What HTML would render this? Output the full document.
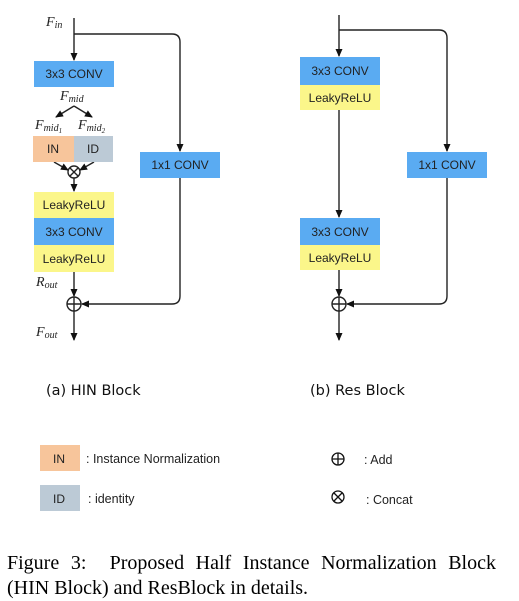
<!DOCTYPE html>
<html><head><style>
body{margin:0;background:#fff;width:519px;height:601px;overflow:hidden;position:relative}
svg{position:absolute;left:0;top:0}
.cap{position:absolute;left:7px;width:489px;font-family:"Liberation Serif",serif;font-size:20px;line-height:25px;white-space:nowrap}
.l1{top:551px;text-align:justify;text-align-last:justify;white-space:normal}
.l2{top:576px}
</style></head><body>
<svg width="519" height="601" viewBox="0 0 519 601">
<defs><marker id="a" markerWidth="8" markerHeight="8" refX="7" refY="4" orient="auto" markerUnits="userSpaceOnUse"><path d="M0,0.5 L8,4 L0,7.5 z" fill="#111"/></marker></defs>
<g font-family="Liberation Sans,sans-serif" font-size="12" text-anchor="middle" fill="#222">
<!-- HIN block -->
<g stroke="#222" stroke-width="1.4" fill="none">
<line x1="74" y1="18" x2="74" y2="60" marker-end="url(#a)"/>
<path d="M74,34 H172 Q180,34 180,42 V151" marker-end="url(#a)"/>
<line x1="74" y1="106" x2="56" y2="117" marker-end="url(#a)"/>
<line x1="74" y1="106" x2="92" y2="117" marker-end="url(#a)"/>
<line x1="54" y1="162" x2="68" y2="170" marker-end="url(#a)"/>
<line x1="94" y1="162" x2="80" y2="170" marker-end="url(#a)"/>
<line x1="74" y1="178" x2="74" y2="191" marker-end="url(#a)"/>
<line x1="74" y1="272" x2="74" y2="296" marker-end="url(#a)"/>
<path d="M180,178 V296 Q180,304 172,304 H82" marker-end="url(#a)"/>
<line x1="74" y1="311" x2="74" y2="340" marker-end="url(#a)"/>
<circle cx="74" cy="172" r="6"/><path d="M70,168 L78,176 M78,168 L70,176"/>
<circle cx="74" cy="304" r="7"/><path d="M67,304 H81 M74,297 V311"/>
</g>
<rect x="34" y="61" width="80" height="26" fill="#5aabf2"/><text x="74" y="78">3x3 CONV</text>
<rect x="33" y="136" width="41" height="26" fill="#f7c59b"/><text x="53" y="153">IN</text>
<rect x="74" y="136" width="39" height="26" fill="#bccad6"/><text x="93" y="153">ID</text>
<rect x="34" y="192" width="80" height="26" fill="#fbf68a"/><text x="74" y="209">LeakyReLU</text>
<rect x="34" y="218" width="80" height="27" fill="#5aabf2"/><text x="74" y="236">3x3 CONV</text>
<rect x="34" y="245" width="80" height="27" fill="#fbf68a"/><text x="74" y="263">LeakyReLU</text>
<rect x="140" y="152" width="80" height="26" fill="#5aabf2"/><text x="180" y="169">1x1 CONV</text>
<g font-family="Liberation Serif,serif" font-style="italic" font-size="14" text-anchor="start">
<text x="46" y="26">F<tspan font-size="10" dy="2">in</tspan></text>
<text x="60" y="100">F<tspan font-size="10" dy="2">mid</tspan></text>
<text x="35" y="129">F<tspan font-size="10" dy="2">mid</tspan><tspan font-size="7" dy="2">1</tspan></text>
<text x="78" y="129">F<tspan font-size="10" dy="2">mid</tspan><tspan font-size="7" dy="2">2</tspan></text>
<text x="36" y="286">R<tspan font-size="10" dy="2">out</tspan></text>
<text x="36" y="336">F<tspan font-size="10" dy="2">out</tspan></text>
</g>
<!-- Res block -->
<g stroke="#222" stroke-width="1.4" fill="none">
<line x1="339" y1="15" x2="339" y2="56" marker-end="url(#a)"/>
<path d="M339,30 H439 Q447,30 447,38 V151" marker-end="url(#a)"/>
<line x1="339" y1="110" x2="339" y2="217" marker-end="url(#a)"/>
<line x1="339" y1="270" x2="339" y2="296" marker-end="url(#a)"/>
<path d="M447,178 V296 Q447,304 439,304 H347" marker-end="url(#a)"/>
<line x1="339" y1="311" x2="339" y2="340" marker-end="url(#a)"/>
<circle cx="339" cy="304" r="7"/><path d="M332,304 H346 M339,297 V311"/>
</g>
<rect x="300" y="57" width="80" height="28" fill="#5aabf2"/><text x="340" y="75">3x3 CONV</text>
<rect x="300" y="85" width="80" height="25" fill="#fbf68a"/><text x="340" y="102">LeakyReLU</text>
<rect x="300" y="218" width="80" height="27" fill="#5aabf2"/><text x="340" y="236">3x3 CONV</text>
<rect x="300" y="245" width="80" height="25" fill="#fbf68a"/><text x="340" y="262">LeakyReLU</text>
<rect x="407" y="152" width="80" height="26" fill="#5aabf2"/><text x="447" y="169">1x1 CONV</text>
<!-- labels -->
<g font-family="DejaVu Sans,sans-serif" font-size="14.5" text-anchor="start" fill="#111">
<text x="46" y="395">(a) HIN Block</text>
<text x="310" y="395">(b) Res Block</text>
</g>
<rect x="40" y="445" width="40" height="26" fill="#f7c59b"/><text x="59" y="463">IN</text>
<rect x="40" y="485" width="40" height="26" fill="#bccad6"/><text x="59" y="503">ID</text>
<g text-anchor="start" font-size="12.5">
<text x="86" y="463">: Instance Normalization</text>
<text x="88" y="503">: identity</text>
<text x="364" y="464">: Add</text>
<text x="366" y="504">: Concat</text>
</g>
<g stroke="#111" stroke-width="1.3" fill="none">
<circle cx="338" cy="459" r="6"/><path d="M332,459 H344 M338,453 V465"/>
<circle cx="338" cy="497" r="6"/><path d="M334,493 L342,501 M342,493 L334,501"/>
</g>
</g>
</svg>
<div class="cap l1">Figure 3:&nbsp; Proposed Half Instance Normalization Block</div>
<div class="cap l2">(HIN Block) and ResBlock in details.</div>
</body></html>
